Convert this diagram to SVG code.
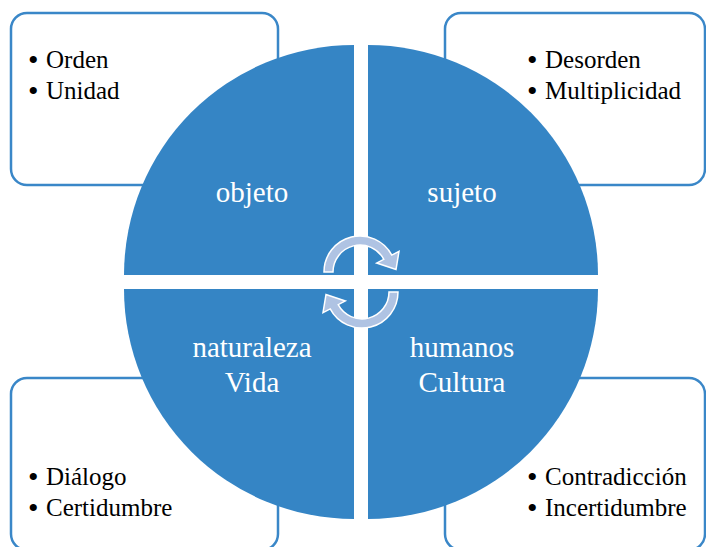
<svg xmlns="http://www.w3.org/2000/svg" width="706" height="547" viewBox="0 0 706 547">
<style>
.box{fill:#FFFFFF;stroke:#3A87C8;stroke-width:2.5}
.quad{fill:#3585C5}
.lab{font-family:"Liberation Serif","Times New Roman",serif;font-size:29px;fill:#FFFFFF;text-anchor:middle}
.bul{font-family:"Liberation Serif","Times New Roman",serif;font-size:25px;fill:#000000}
.dot{font-family:"Liberation Serif","Times New Roman",serif;font-size:30px;fill:#000000}
.arr{fill:#AFC3E3;stroke:#FFFFFF;stroke-width:1.5;stroke-linejoin:miter}
</style>
<rect width="706" height="547" fill="#FFFFFF"/>
<g id="box-tl">
<rect class="box" x="11" y="13" width="267" height="172" rx="16"/>
<text class="dot" x="28" y="70">•</text><text class="bul" x="46" y="68">Orden</text>
<text class="dot" x="28" y="101">•</text><text class="bul" x="46" y="99">Unidad</text>
</g>
<g id="box-tr">
<rect class="box" x="445" y="13" width="260" height="172" rx="16"/>
<text class="dot" x="527" y="70">•</text><text class="bul" x="545" y="68">Desorden</text>
<text class="dot" x="527" y="101">•</text><text class="bul" x="545" y="99">Multiplicidad</text>
</g>
<g id="box-bl">
<rect class="box" x="11" y="378" width="267" height="172" rx="16"/>
<text class="dot" x="28" y="487">•</text><text class="bul" x="46" y="485">Diálogo</text>
<text class="dot" x="28" y="518">•</text><text class="bul" x="46" y="516">Certidumbre</text>
</g>
<g id="box-br">
<rect class="box" x="445" y="378" width="260" height="172" rx="16"/>
<text class="dot" x="527" y="487">•</text><text class="bul" x="545" y="485">Contradicción</text>
<text class="dot" x="527" y="518">•</text><text class="bul" x="545" y="516">Incertidumbre</text>
</g>
<g id="quad-objeto">
<path class="quad" d="M354,275 L124,275 A230,230 0 0 1 354,45 Z"/>
<text class="lab" x="252" y="202">objeto</text>
</g>
<g id="quad-sujeto">
<path class="quad" d="M368,275 L368,45 A230,230 0 0 1 598,275 Z"/>
<text class="lab" x="462" y="202">sujeto</text>
</g>
<g id="quad-naturaleza">
<path class="quad" d="M354,289 L354,519 A230,230 0 0 1 124,289 Z"/>
<text class="lab" x="252" y="357">naturaleza</text>
<text class="lab" x="252" y="392">Vida</text>
</g>
<g id="quad-humanos">
<path class="quad" d="M368,289 L598,289 A230,230 0 0 1 368,519 Z"/>
<text class="lab" x="462" y="357">humanos</text>
<text class="lab" x="462" y="392">Cultura</text>
</g>
<g id="connectors">
<path id="arrow-top" class="arr" d="M324,272 A36,36 0 0 1 391.8,255.1 L399,251.3 L396,269.5 L376.7,263 L383.8,259.3 A27,27 0 0 0 333,272 Z"/>
<path id="arrow-bottom" class="arr" transform="rotate(180 361 282)" d="M324,272 A36,36 0 0 1 391.8,255.1 L399,251.3 L396,269.5 L376.7,263 L383.8,259.3 A27,27 0 0 0 333,272 Z"/>
</g>
</svg>
